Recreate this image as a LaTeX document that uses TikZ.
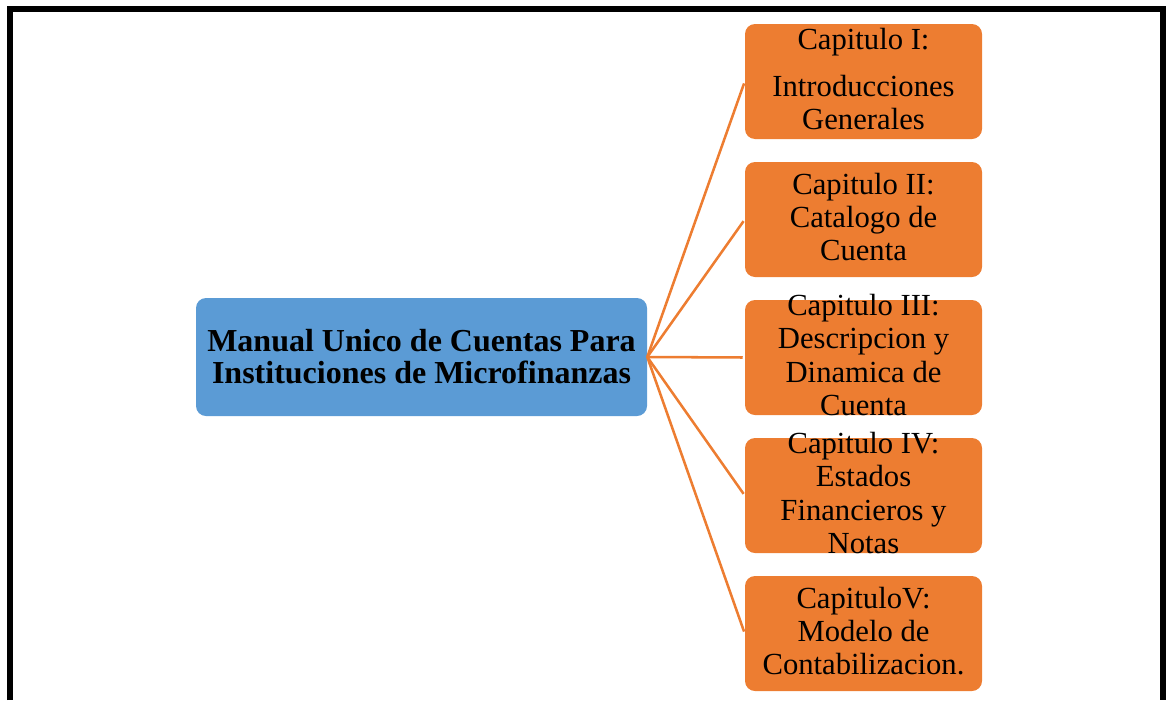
\documentclass[tikz,border=0pt]{standalone}
\usepackage{fontspec}
\setmainfont{Liberation Serif}
\usetikzlibrary{positioning}

\definecolor{rootblue}{HTML}{5B9BD5}
\definecolor{chaporange}{HTML}{ED7D31}
\newcommand{\chaptext}[1]{\raisebox{-1.5pt}{\smash{\parbox[c]{175pt}{\centering\fontsize{23}{25}\selectfont #1}}}}

\begin{document}
\begin{tikzpicture}[x=0.75pt, y=-0.75pt,
  root/.style={rectangle, rounded corners=7.5pt, minimum width=338.25pt, minimum height=88.5pt, inner sep=0pt, align=center, fill=rootblue, font=\fontsize{24}{24}\selectfont\bfseries},
  chapter/.style={rectangle, rounded corners=7.5pt, minimum width=177.75pt, minimum height=86.25pt, inner sep=0pt, fill=chaporange},
  link/.style={draw=chaporange, line width=1.9pt, shorten >=1.5pt}
]
\useasboundingbox (0,0) rectangle (1166,700);

% Frame
\draw[line width=4.5pt] (10,700) -- (10,9) -- (1163,9) -- (1163,700);

% Manual
\node[root] (manual) at (421.5,357) {Manual Unico de Cuentas Para\\Instituciones de Microfinanzas};

% Chapters
\node[chapter] (cap1) at (863.5,81.5) {\chaptext{Capitulo I:\\[10pt]Introducciones\\Generales}};
\node[chapter] (cap2) at (863.5,219.5) {\chaptext{Capitulo II:\\Catalogo de\\Cuenta}};
\node[chapter] (cap3) at (863.5,357.5) {\chaptext{Capitulo III:\\Descripcion y\\Dinamica de\\Cuenta}};
\node[chapter] (cap4) at (863.5,495.5) {\chaptext{Capitulo IV:\\Estados\\Financieros y\\Notas}};
\node[chapter] (cap5) at (863.5,633.5) {\chaptext{CapituloV:\\Modelo de\\Contabilizacion.}};

% Connections
\draw[link] (manual.east) -- (cap1.west);
\draw[link] (manual.east) -- (cap2.west);
\draw[link] (manual.east) -- (cap3.west);
\draw[link] (manual.east) -- (cap4.west);
\draw[link] (manual.east) -- (cap5.west);

\end{tikzpicture}
\end{document}
